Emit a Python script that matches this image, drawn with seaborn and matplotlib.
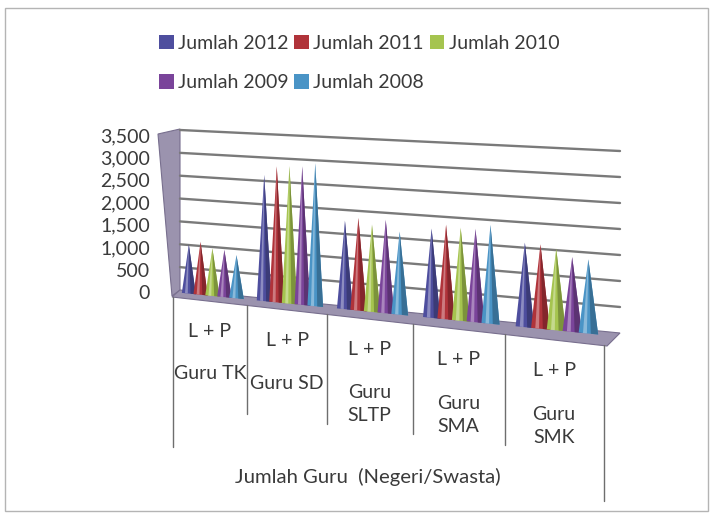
import numpy as np
import pandas as pd
import matplotlib
matplotlib.use("Agg")
import matplotlib.pyplot as plt
import matplotlib.colors as mcolors
from matplotlib.transforms import Transform, Affine2D
from matplotlib.patches import Polygon, Patch, Rectangle
from matplotlib.lines import Line2D
import seaborn as sns

# ---- data -------------------------------------------------------------
kategori = ["Guru TK", "Guru SD", "Guru SLTP", "Guru SMA", "Guru SMK"]
label_kategori = ["Guru TK", "Guru SD", "Guru\nSLTP", "Guru\nSMA", "Guru\nSMK"]
label_dalam = "L + P"
judul_sumbu = "Jumlah Guru  (Negeri/Swasta)"
tahun = ["Jumlah 2012", "Jumlah 2011", "Jumlah 2010", "Jumlah 2009", "Jumlah 2008"]
jumlah_2012 = [1070, 2690, 1840, 1810, 1670]
jumlah_2011 = [1150, 2890, 1920, 1910, 1660]
jumlah_2010 = [1030, 2910, 1800, 1870, 1600]
jumlah_2009 = [1020, 2920, 1920, 1870, 1460]
jumlah_2008 = [930, 3000, 1700, 1970, 1440]
y_ticks = [0, 500, 1000, 1500, 2000, 2500, 3000, 3500]
warna = ["#4e4e9e", "#b0333a", "#a5c44f", "#7a449a", "#4a94c6"]

series = [jumlah_2012, jumlah_2011, jumlah_2010, jumlah_2009, jumlah_2008]
df = pd.DataFrame({
    "kategori": kategori * len(tahun),
    "tahun": [t for t in tahun for _ in kategori],
    "jumlah": [v for s in series for v in s],
})

# ---- style ------------------------------------------------------------
sns.set_theme(style="white")
plt.rcParams["font.family"] = ["Lato", "DejaVu Sans"]
TXT = "#3a3a3a"
FS = 14

W_PX, H_PX = 714, 513
fig = plt.figure(figsize=(W_PX / 100, H_PX / 100), dpi=100)
fig.patch.set_facecolor("white")

# pixel space with the origin at the top-left corner
img = Affine2D().scale(1, -1).translate(0, H_PX)


class Perspective(Transform):
    """Maps the unit square onto a quadrilateral with vertical sides,
    using depth weights so the right side appears closer."""
    input_dims = 2
    output_dims = 2
    is_separable = False
    has_inverse = False

    def __init__(self, x0, x1, yl0, yl1, yr0, yr1, k):
        super().__init__()
        self.x0, self.x1 = x0, x1
        self.yl0, self.yl1, self.yr0, self.yr1 = yl0, yl1, yr0, yr1
        self.k = k

    def transform_non_affine(self, values):
        values = np.asarray(values, dtype=float)
        u, v = values[:, 0], values[:, 1]
        wl = self.k * (1.0 - u)
        wr = u
        d = wl + wr
        X = (wl * self.x0 + wr * self.x1) / d
        yl = self.yl0 + (self.yl1 - self.yl0) * v
        yr = self.yr0 + (self.yr1 - self.yr0) * v
        Y = (wl * yl + wr * yr) / d
        return np.column_stack([X, Y])


Y_MAX = 3500
X_LO, X_HI = -0.40, 4.656
K = 1.2
wall = Perspective(180, 620, 290, 130, 333, 151, K)
cone_plane = Perspective(183, 623, 293, 133, 337, 155, K)

to_unit = Affine2D().translate(-X_LO, 0).scale(1 / (X_HI - X_LO), 1 / Y_MAX)
cone_T = to_unit + cone_plane + img
wall_T = Affine2D().scale(1, 1 / Y_MAX) + wall + img

# ---- flat axes: seaborn computes the bars, tick labels live here ------
ax = fig.add_axes([155 / W_PX, (H_PX - 292) / H_PX, 450 / W_PX, 157 / H_PX])
sns.barplot(data=df, x="kategori", y="jumlah", hue="tahun", hue_order=tahun,
            order=kategori, palette=warna, width=0.8, errorbar=None, ax=ax)
ax.set_ylim(0, Y_MAX)
ax.set_yticks(y_ticks)
ax.set_yticklabels([f"{t:,}" for t in y_ticks], fontsize=FS, color=TXT)
ax.set_xticks([])
ax.set_xlabel("")
ax.set_ylabel("")
ax.tick_params(axis="y", length=0, pad=3.6)
for s in ax.spines.values():
    s.set_visible(False)
ax.patch.set_visible(False)
if ax.get_legend() is not None:
    ax.get_legend().remove()

# ---- walls, floor and gridlines ---------------------------------------
wall_face = "#9b93ae"
wall_edge = "#786f8e"
fig.add_artist(Polygon([(158, 134), (180, 129), (180, 290), (172, 296)],
                       closed=True, transform=img, facecolor=wall_face,
                       edgecolor=wall_edge, lw=0.8, zorder=2))
fig.add_artist(Polygon([(180, 290), (620, 333), (607, 346), (172, 297)],
                       closed=True, transform=img, facecolor=wall_face,
                       edgecolor=wall_edge, lw=0.8, zorder=2))
for t in y_ticks[1:]:
    fig.add_artist(Line2D([0, 1], [t, t], transform=wall_T, color="#7a7a7a",
                          lw=1.7, zorder=2))

# ---- cones built from seaborn's bars -----------------------------------
def mix(c, other, f):
    a = np.array(mcolors.to_rgb(c))
    b = np.array(mcolors.to_rgb(other))
    return tuple(a * (1 - f) + b * f)

for i, cont in enumerate(ax.containers):
    base = warna[i]
    dark = mix(base, "black", 0.25)
    light = mix(base, "white", 0.35)
    for j, bar in enumerate(cont):
        x, w, h = bar.get_x(), bar.get_width(), bar.get_height()
        c = x + w / 2
        half = w * 0.6
        zc = 4 + 0.01 * (5 * j + i)
        fig.add_artist(Polygon([(c - half, 0), (c, h), (c + half, 0)], closed=True,
                               transform=cone_T, facecolor=base, edgecolor="none",
                               zorder=zc))
        fig.add_artist(Polygon([(c + half * 0.25, 0), (c, h), (c + half, 0)], closed=True,
                               transform=cone_T, facecolor=dark, edgecolor="none",
                               zorder=zc))
        fig.add_artist(Polygon([(c - half * 0.55, 0), (c, h), (c - half * 0.15, 0)],
                               closed=True, transform=cone_T, facecolor=light,
                               edgecolor="none", zorder=zc))
    for bar in list(cont):
        bar.remove()

# ---- category axis below the floor ------------------------------------
def front_y(X):
    return 297 + (X - 172) * (48 / 431)

def grow(X):
    return 1 + 0.04 * (X - 172) / 431

bounds = np.arange(len(kategori) + 1) - 0.5
u_b = (bounds - X_LO) / (X_HI - X_LO)
sep_x = wall.transform_non_affine(np.column_stack([u_b, np.zeros_like(u_b)]))[:, 0]
for j, X in enumerate(sep_x):
    y0 = front_y(X)
    length = 150 if j in (0, len(sep_x) - 1) else 108
    fig.add_artist(Line2D([X, X], [y0, y0 + length * grow(X)], transform=img,
                          color="#6e6e6e", lw=1.0, zorder=2))

for j, lab in enumerate(label_kategori):
    X = (sep_x[j] + sep_x[j + 1]) / 2
    y0 = front_y(X)
    g = grow(X)
    fig.text(X, y0 + 30 * g, label_dalam, transform=img, ha="center", va="center",
             fontsize=FS, color=TXT, zorder=5)
    fig.text(X, y0 + 64 * g, lab, transform=img, ha="center", va="top",
             fontsize=FS, color=TXT, linespacing=1.45, zorder=5)

fig.text(368, 477, judul_sumbu, transform=img, ha="center", va="center",
         fontsize=FS + 0.6, color=TXT, zorder=5)

# ---- legend -----------------------------------------------------------
handles = [Patch(facecolor=c, edgecolor="none") for c in warna]
order = [0, 3, 1, 4, 2]
fig.legend([handles[i] for i in order], [tahun[i] for i in order],
           loc="upper left", bbox_to_anchor=(159 / W_PX, 1 - 35 / H_PX),
           ncol=3, frameon=False, fontsize=FS, labelcolor=TXT,
           handlelength=0.75, handleheight=0.75, handletextpad=0.22,
           columnspacing=0.3, labelspacing=1.15, borderpad=0, borderaxespad=0)

# ---- chart frame ------------------------------------------------------
fig.add_artist(Rectangle((5, 8), 703, 503, transform=img, fill=False,
                         edgecolor="#b4b4b4", lw=1.0, zorder=1))

fig.savefig("out.png", dpi=100, facecolor="white")
